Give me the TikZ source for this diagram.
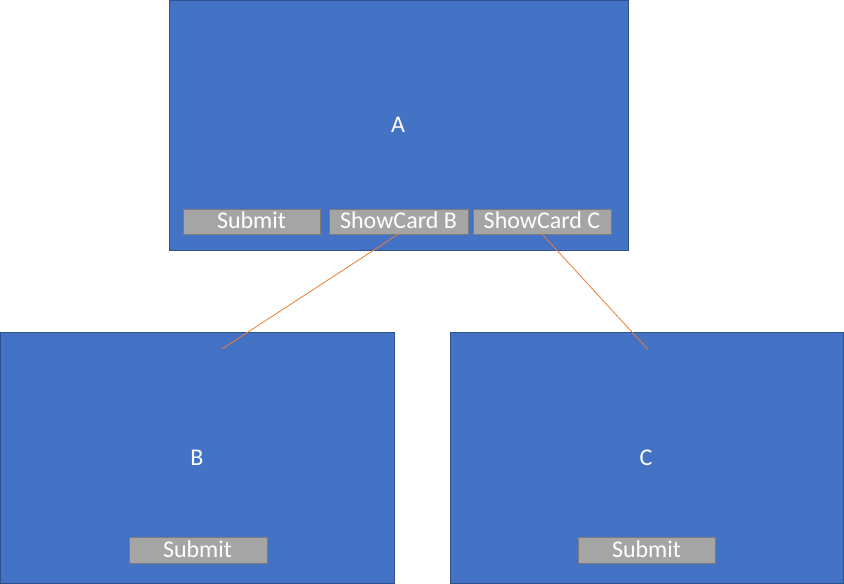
\documentclass[tikz,border=0pt]{standalone}
\usepackage{fontspec}
\setmainfont{Carlito}
\definecolor{cardblue}{HTML}{4472C4}
\definecolor{cardedge}{HTML}{2F528F}
\definecolor{btnfill}{HTML}{A5A5A5}
\definecolor{btnedge}{HTML}{7B7B7B}
\definecolor{linkorange}{HTML}{ED7D31}
\begin{document}
\begin{tikzpicture}[x=1pt,y=-1pt,
  card/.style={draw=cardedge, fill=cardblue, line width=0.9pt, inner sep=0pt, outer sep=0pt},
  btn/.style={draw=btnedge, fill=btnfill, line width=0.9pt, inner sep=0pt, outer sep=0pt},
  lbl/.style={text=white, font=\fontsize{24}{28}\selectfont, inner sep=0pt, anchor=base},
  link/.style={draw=linkorange, line width=0.8pt}]
\useasboundingbox (0,0) rectangle (844,584);
% cards
\node[card, minimum width=459pt, minimum height=249.5pt] (A) at (399,125.25) {};
\node[card, minimum width=394pt, minimum height=251pt] (B) at (197.5,458) {};
\node[card, minimum width=393pt, minimum height=251pt] (C) at (647,458) {};
% titles
\node[lbl] (At) at (398,132) {A};
\node[lbl] (Bt) at (197,465) {B};
\node[lbl] (Ct) at (646,465) {C};
% buttons
\node[btn, minimum width=137pt, minimum height=25pt] (As) at (251.5,221.5) {};
\node[btn, minimum width=139pt, minimum height=25pt] (Ab) at (398.5,221.5) {};
\node[btn, minimum width=138pt, minimum height=25pt] (Ac) at (542,221.5) {};
\node[btn, minimum width=138pt, minimum height=26pt] (Bs) at (198,550) {};
\node[btn, minimum width=137pt, minimum height=26pt] (Cs) at (646.5,550) {};
\node[lbl] (Ast) at (251.5,228.5) {Submit};
\node[lbl] (Abt) at (398.5,228.5) {ShowCard B};
\node[lbl] (Act) at (542,228.5) {ShowCard C};
\node[lbl] (Bst) at (197.5,557) {Submit};
\node[lbl] (Cst) at (646.5,557) {Submit};
% links
\coordinate (Bend) at (222,349);
\coordinate (Cend) at (647.5,349);
\draw[link] (Ab.south) -- (Bend);
\draw[link] (Ac.south) -- (Cend);
\end{tikzpicture}
\end{document}
